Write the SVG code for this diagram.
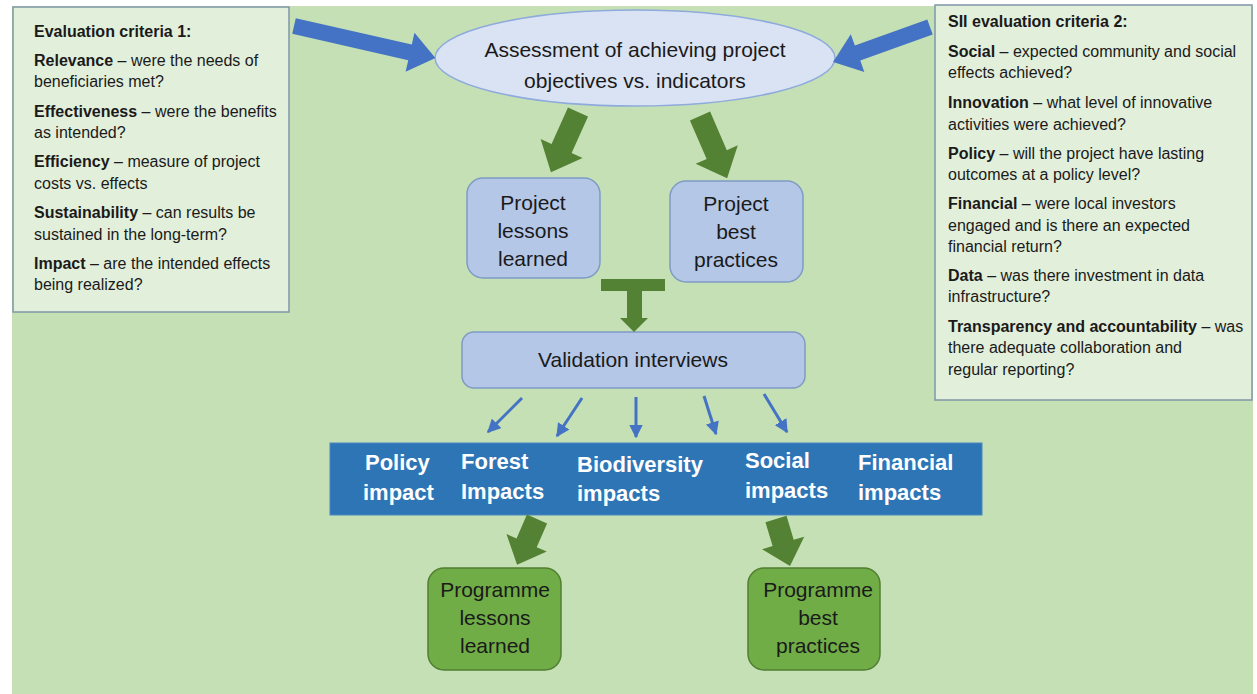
<svg xmlns="http://www.w3.org/2000/svg" width="1257" height="694" viewBox="0 0 1257 694">
<defs>
<style>
.t{font-family:"Liberation Sans",Arial,sans-serif;fill:#1a1a1a}
.crit{font-size:16px}
.b{font-weight:bold}
.node{font-size:21px;text-anchor:middle}
.band{font-family:"Liberation Sans",Arial,sans-serif;font-size:22px;font-weight:bold;fill:#ffffff}
.panel{fill:#e2efda;stroke:#7f97a6;stroke-width:1.5}
.pbox{fill:#b4c7e7;stroke:#7f9bc4;stroke-width:1.5}
.gbox{fill:#70ad47;stroke:#507e32;stroke-width:1.5}
.garrow{fill:#548235}
.barrow{fill:#4472c4}
.thin{stroke:#4472c4;stroke-width:3;fill:none}
</style>
<marker id="ah" viewBox="0 0 10 10" refX="9" refY="5" markerWidth="4.5" markerHeight="4.5" orient="auto" markerUnits="strokeWidth">
<path d="M0,0 L10,5 L0,10 Z" fill="#4472c4"/>
</marker>
</defs>
<rect x="0" y="0" width="1257" height="694" fill="#ffffff"/>
<rect x="12" y="6" width="1241" height="688" fill="#c5e0b4"/>

<g id="criteria1">
<rect class="panel" x="13" y="7" width="276" height="305"/>
<text class="t crit b" x="34" y="37">Evaluation criteria 1:</text>
<text class="t crit" x="34" y="66"><tspan class="b">Relevance</tspan> – were the needs of</text>
<text class="t crit" x="34" y="87">beneficiaries met?</text>
<text class="t crit" x="34" y="117"><tspan class="b">Effectiveness</tspan> – were the benefits</text>
<text class="t crit" x="34" y="138">as intended?</text>
<text class="t crit" x="34" y="167"><tspan class="b">Efficiency</tspan> – measure of project</text>
<text class="t crit" x="34" y="189">costs vs. effects</text>
<text class="t crit" x="34" y="218"><tspan class="b">Sustainability</tspan> – can results be</text>
<text class="t crit" x="34" y="240">sustained in the long-term?</text>
<text class="t crit" x="34" y="269"><tspan class="b">Impact</tspan> – are the intended effects</text>
<text class="t crit" x="34" y="290">being realized?</text>
</g>

<g id="criteria2">
<rect class="panel" x="935" y="5" width="317" height="395"/>
<text class="t crit b" x="948" y="27">SII evaluation criteria 2:</text>
<text class="t crit" x="948" y="57"><tspan class="b">Social</tspan> – expected community and social</text>
<text class="t crit" x="948" y="78">effects achieved?</text>
<text class="t crit" x="948" y="108"><tspan class="b">Innovation</tspan> – what level of innovative</text>
<text class="t crit" x="948" y="130">activities were achieved?</text>
<text class="t crit" x="948" y="159"><tspan class="b">Policy</tspan> – will the project have lasting</text>
<text class="t crit" x="948" y="180">outcomes at a policy level?</text>
<text class="t crit" x="948" y="209"><tspan class="b">Financial</tspan> – were local investors</text>
<text class="t crit" x="948" y="231">engaged and is there an expected</text>
<text class="t crit" x="948" y="252">financial return?</text>
<text class="t crit" x="948" y="281"><tspan class="b">Data</tspan> – was there investment in data</text>
<text class="t crit" x="948" y="302">infrastructure?</text>
<text class="t crit" x="948" y="332"><tspan class="b">Transparency and accountability</tspan> – was</text>
<text class="t crit" x="948" y="353">there adequate collaboration and</text>
<text class="t crit" x="948" y="375">regular reporting?</text>
</g>

<g id="assessment">
<ellipse cx="635" cy="58" rx="200" ry="48" fill="#dae3f3" stroke="#8faadc" stroke-width="1.5"/>
<text class="t node" x="635" y="57">Assessment of achieving project</text>
<text class="t node" x="635" y="88">objectives vs. indicators</text>
</g>

<g id="project-lessons">
<rect class="pbox" x="467" y="178" width="133" height="100" rx="16"/>
<text class="t node" x="533" y="210">Project</text>
<text class="t node" x="533" y="238">lessons</text>
<text class="t node" x="533" y="266">learned</text>
</g>

<g id="project-best">
<rect class="pbox" x="670" y="181" width="133" height="101" rx="16"/>
<text class="t node" x="736" y="211">Project</text>
<text class="t node" x="736" y="239">best</text>
<text class="t node" x="736" y="267">practices</text>
</g>

<g id="validation">
<rect class="pbox" x="462" y="332" width="343" height="56" rx="12"/>
<text class="t node" x="633" y="367">Validation interviews</text>
</g>

<g id="impacts">
<rect x="330" y="443" width="652" height="72" fill="#2e75b6" stroke="#4a86c0" stroke-width="1"/>
<text class="band" x="365" y="470">Policy</text>
<text class="band" x="363" y="500">impact</text>
<text class="band" x="461" y="469">Forest</text>
<text class="band" x="461" y="499">Impacts</text>
<text class="band" x="577" y="472">Biodiversity</text>
<text class="band" x="577" y="501">impacts</text>
<text class="band" x="745" y="468">Social</text>
<text class="band" x="745" y="498">impacts</text>
<text class="band" x="858" y="470">Financial</text>
<text class="band" x="858" y="500">impacts</text>
</g>

<g id="programme-lessons">
<rect class="gbox" x="428" y="568" width="133" height="102" rx="16"/>
<text class="t node" x="495" y="597">Programme</text>
<text class="t node" x="495" y="625">lessons</text>
<text class="t node" x="495" y="653">learned</text>
</g>

<g id="programme-best">
<rect class="gbox" x="748" y="568" width="132" height="102" rx="16"/>
<text class="t node" x="818" y="597">Programme</text>
<text class="t node" x="818" y="625">best</text>
<text class="t node" x="818" y="653">practices</text>
</g>

<g id="connectors">
<polygon class="barrow" transform="translate(294,26) rotate(12.8)" points="0,-8 119,-8 119,-20 145,0 119,20 119,8 0,8"/>
<polygon class="barrow" transform="translate(930,27) rotate(160.2)" points="0,-8 77,-8 77,-20 103,0 77,20 77,8 0,8"/>
<polygon class="garrow" transform="translate(578,112) rotate(114.2)" points="0,-11 40,-11 40,-23 66,0 40,23 40,11 0,11"/>
<polygon class="garrow" transform="translate(700,116) rotate(66.5)" points="0,-11 42,-11 42,-23 68,0 42,23 42,11 0,11"/>
<polygon class="garrow" points="601,279 665,279 665,291 642,291 642,318 648,318 634,332 620,318 627,318 627,291 601,291"/>
<line class="thin" x1="522" y1="398" x2="488" y2="432" marker-end="url(#ah)"/>
<line class="thin" x1="582" y1="398" x2="557" y2="436" marker-end="url(#ah)"/>
<line class="thin" x1="636" y1="397" x2="636" y2="437" marker-end="url(#ah)"/>
<line class="thin" x1="704" y1="396" x2="716" y2="434" marker-end="url(#ah)"/>
<line class="thin" x1="764" y1="394" x2="787" y2="432" marker-end="url(#ah)"/>
<polygon class="garrow" transform="translate(537,519) rotate(113.5)" points="0,-11 26,-11 26,-22 50,0 26,22 26,11 0,11"/>
<polygon class="garrow" transform="translate(776,519) rotate(73.4)" points="0,-11 25,-11 25,-22 49,0 25,22 25,11 0,11"/>
</g>
</svg>
